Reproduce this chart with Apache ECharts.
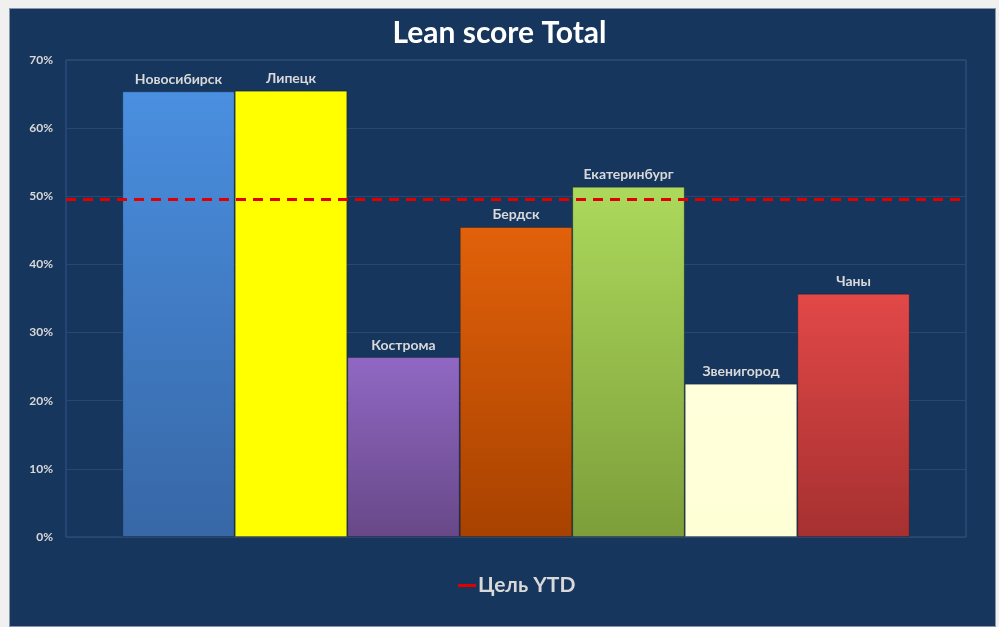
<!DOCTYPE html>
<html>
<head>
<meta charset="utf-8">
<script src="https://cdn.jsdelivr.net/npm/echarts@6/dist/echarts.min.js"></script>
<style>
  html, body { margin: 0; padding: 0; background: #f0f0f0; }
  #panel { position: absolute; left: 9px; top: 8px; width: 987px; height: 619px; background: #17365d; border: 1px solid #8a96a8; box-sizing: border-box; }
  #chart { position: absolute; left: 0; top: 0; width: 999px; height: 627px; }
</style>
</head>
<body>
<div id="panel"></div>
<div id="chart"></div>
<script>
// data
const cities = ['Новосибирск', 'Липецк', 'Кострома', 'Бердск', 'Екатеринбург', 'Звенигород', 'Чаны'];
const scores = [65.4, 65.5, 26.4, 45.5, 51.4, 22.5, 35.7];
const targetName = 'Цель YTD';
const targetValue = 49.5;

// bar fills, top -> bottom
const barColors = [
  ['#4a8fe0', '#3767a6'],
  ['#ffff00', '#ffff00'],
  ['#9068c4', '#684888'],
  ['#e2610a', '#a84200'],
  ['#acd95c', '#7d9e3a'],
  ['#ffffdc', '#ffffd6'],
  ['#e24848', '#a63030']
];

const chart = echarts.init(document.getElementById('chart'), null, { renderer: 'canvas' });
const labelColor = '#d9d9d9';
const font = 'Lato, "Open Sans", sans-serif';

const series = cities.map(function (name, i) {
  return {
    name: name,
    type: 'bar',
    data: [scores[i]],
    barGap: '0%',
    barCategoryGap: '12.5%',
    itemStyle: {
      color: new echarts.graphic.LinearGradient(0, 0, 0, 1, [
        { offset: 0, color: barColors[i][0] },
        { offset: 1, color: barColors[i][1] }
      ]),
      borderColor: 'rgba(0,0,0,0.25)',
      borderWidth: 1
    },
    label: {
      show: true,
      position: 'top',
      distance: 5,
      formatter: '{a}',
      color: labelColor,
      fontWeight: 'bold',
      fontSize: 14,
      fontFamily: font
    }
  };
});

series.push({
  name: targetName,
  type: 'line',
  data: [],
  symbol: 'none',
  lineStyle: { color: '#e00000', width: 3 },
  itemStyle: { color: '#e00000' },
  markLine: {
    silent: true,
    symbol: 'none',
    label: { show: false },
    lineStyle: { color: '#e00000', width: 3, type: [10, 7] },
    data: [{ yAxis: targetValue }]
  }
});

const option = {
  animation: false,
  backgroundColor: 'transparent',
  title: {
    text: 'Lean score Total',
    left: 'center',
    top: 13,
    textStyle: { color: '#ffffff', fontSize: 30, fontWeight: 'bold', fontFamily: font }
  },
  legend: {
    data: [{ name: targetName, icon: 'rect' }],
    left: 453,
    top: 570,
    itemWidth: 18,
    itemHeight: 3,
    itemGap: 0,
    textStyle: { color: labelColor, fontSize: 21, fontWeight: 'bold', fontFamily: font, padding: [0, 0, 0, -3] }
  },
  grid: {
    left: 66, right: 33, top: 60, bottom: 90,
    show: true,
    borderColor: '#34578a',
    borderWidth: 1
  },
  xAxis: {
    type: 'category',
    data: [''],
    axisLine: { show: false },
    axisTick: { show: false },
    axisLabel: { show: false }
  },
  yAxis: {
    type: 'value',
    min: 0,
    max: 70,
    interval: 10,
    axisLine: { show: false },
    axisTick: { show: false },
    splitLine: { lineStyle: { color: '#29476f', width: 1 } },
    axisLabel: {
      formatter: '{value}%',
      color: labelColor,
      fontWeight: 'bold',
      fontSize: 12,
      fontFamily: font,
      margin: 13
    }
  },
  series: series
};

chart.setOption(option);
</script>
</body>
</html>
